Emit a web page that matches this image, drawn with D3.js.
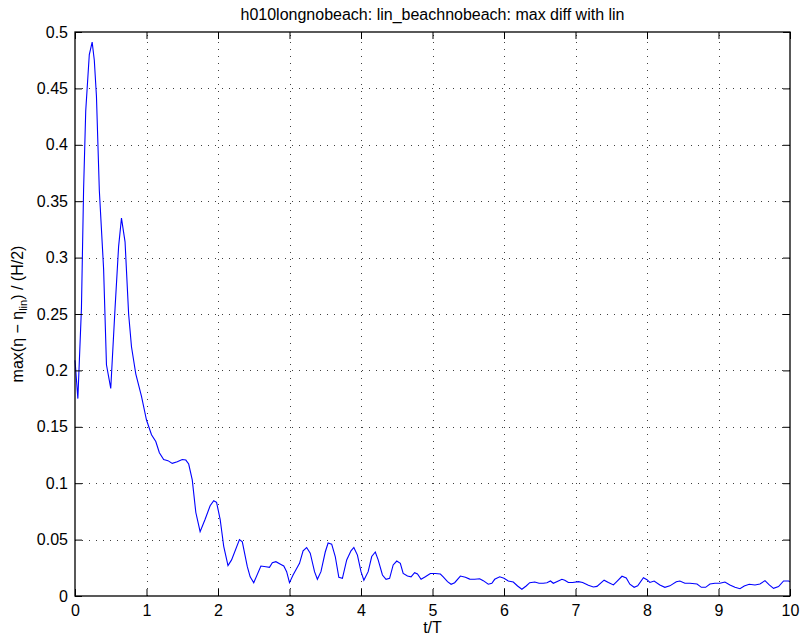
<!DOCTYPE html>
<html>
<head>
<meta charset="utf-8">
<script src="https://cdn.jsdelivr.net/npm/d3@7"></script>
<style>
  html, body { margin: 0; padding: 0; background: #fff; }
  svg text { font-family: "Liberation Sans", Arial, Helvetica, sans-serif; fill: #000; }
</style>
</head>
<body>
<svg id="chart" width="803" height="640"></svg>
<script>
// Time samples (t/T) and normalised maximum difference
const tValues = [
  0.00, 0.04, 0.09, 0.12, 0.15, 0.20, 0.24, 0.27, 0.30, 0.34,
  0.40, 0.44, 0.50, 0.56, 0.61, 0.65, 0.70, 0.75, 0.79, 0.85,
  0.93, 1.00, 1.07, 1.13, 1.18, 1.24, 1.30, 1.36, 1.43, 1.50,
  1.55, 1.59, 1.64, 1.69, 1.75, 1.82, 1.89, 1.94, 1.98, 2.03,
  2.08, 2.14, 2.19, 2.30, 2.34, 2.41, 2.45, 2.50, 2.60, 2.67,
  2.72, 2.76, 2.81, 2.88, 2.92, 2.96, 3.00, 3.05, 3.14, 3.19,
  3.24, 3.29, 3.35, 3.39, 3.44, 3.50, 3.54, 3.59, 3.64, 3.69,
  3.74, 3.80, 3.86, 3.90, 3.95, 4.00, 4.04, 4.10, 4.15, 4.20,
  4.24, 4.30, 4.35, 4.40, 4.45, 4.50, 4.55, 4.59, 4.65, 4.70,
  4.75, 4.79, 4.84, 4.90, 4.97, 5.04, 5.11, 5.15, 5.21, 5.26,
  5.31, 5.39, 5.46, 5.52, 5.59, 5.66, 5.71, 5.78, 5.83, 5.87,
  5.94, 6.00, 6.06, 6.13, 6.19, 6.25, 6.31, 6.36, 6.43, 6.49,
  6.55, 6.60, 6.65, 6.69, 6.76, 6.81, 6.85, 6.90, 6.96, 7.04,
  7.10, 7.18, 7.25, 7.30, 7.40, 7.46, 7.53, 7.58, 7.65, 7.71,
  7.76, 7.82, 7.87, 7.95, 8.00, 8.04, 8.10, 8.18, 8.25, 8.32,
  8.41, 8.46, 8.53, 8.60, 8.70, 8.76, 8.82, 8.88, 8.95, 9.02,
  9.09, 9.16, 9.23, 9.30, 9.36, 9.43, 9.51, 9.58, 9.65, 9.71,
  9.77, 9.84, 9.91, 9.98, 10.00
];
const maxDiff = [
  0.209, 0.175, 0.255, 0.360, 0.430, 0.480, 0.491, 0.475, 0.443, 0.360,
  0.290, 0.205, 0.184, 0.255, 0.310, 0.335, 0.314, 0.250, 0.221, 0.197,
  0.177, 0.156, 0.143, 0.137, 0.127, 0.121, 0.120, 0.1176, 0.119, 0.121,
  0.1205, 0.117, 0.103, 0.074, 0.057, 0.068, 0.080, 0.0845, 0.083, 0.068,
  0.044, 0.027, 0.032, 0.050, 0.048, 0.026, 0.017, 0.0118, 0.0266, 0.026,
  0.0254, 0.0295, 0.0304, 0.028, 0.0266, 0.0216, 0.0118, 0.0186, 0.029, 0.040,
  0.043, 0.038, 0.0216, 0.0148, 0.0216, 0.039, 0.047, 0.046, 0.035, 0.0166,
  0.0157, 0.032, 0.040, 0.043, 0.0363, 0.0216, 0.014, 0.0216, 0.035, 0.039,
  0.032, 0.0186, 0.0148, 0.0157, 0.0275, 0.031, 0.029, 0.020, 0.0177, 0.017,
  0.0207, 0.0195, 0.0148, 0.017, 0.020, 0.020, 0.0195, 0.017, 0.0127, 0.0104,
  0.0118, 0.0177, 0.0166, 0.015, 0.0148, 0.0153, 0.0136, 0.0104, 0.0113, 0.0148,
  0.017, 0.0157, 0.0133, 0.0124, 0.0089, 0.006, 0.0089, 0.0118, 0.0124, 0.0113,
  0.0113, 0.0118, 0.0133, 0.0113, 0.0133, 0.0148, 0.014, 0.012, 0.012, 0.0127,
  0.012, 0.0095, 0.008, 0.0085, 0.014, 0.012, 0.0098, 0.013, 0.0175, 0.016,
  0.0105, 0.0077, 0.009, 0.0162, 0.0145, 0.012, 0.0133, 0.0098, 0.0077, 0.009,
  0.0127, 0.0133, 0.0113, 0.0113, 0.0106, 0.0077, 0.0077, 0.0106, 0.0113, 0.0113,
  0.0124, 0.0098, 0.0077, 0.0065, 0.0089, 0.0104, 0.0098, 0.0106, 0.0136, 0.0098,
  0.0068, 0.0083, 0.0133, 0.0133, 0.0127
];
const xTicks = [0, 1, 2, 3, 4, 5, 6, 7, 8, 9, 10];
const yTicks = [0, 0.05, 0.1, 0.15, 0.2, 0.25, 0.3, 0.35, 0.4, 0.45, 0.5];
const titleText = "h010longnobeach: lin_beachnobeach: max diff with lin";
const xLabel = "t/T";

const svg = d3.select("#chart");
const plot = { left: 75, right: 790, top: 32, bottom: 596 };

const x = d3.scaleLinear().domain([0, 10]).range([plot.left, plot.right]);
const y = d3.scaleLinear().domain([0, 0.5]).range([plot.bottom, plot.top]);

// Dotted grid
const grid = svg.append("g")
  .attr("stroke", "#000")
  .attr("stroke-width", 1)
  .attr("stroke-dasharray", "1,6")
  .attr("opacity", 0.75);
grid.selectAll("line.gx").data(xTicks.slice(1, -1)).enter().append("line")
  .attr("x1", d => Math.round(x(d)) + 0.5).attr("x2", d => Math.round(x(d)) + 0.5)
  .attr("y1", plot.bottom).attr("y2", plot.top);
grid.selectAll("line.gy").data(yTicks.slice(1, -1)).enter().append("line")
  .attr("y1", d => Math.round(y(d)) + 0.5).attr("y2", d => Math.round(y(d)) + 0.5)
  .attr("x1", plot.left).attr("x2", plot.right);

// Data line
const line = d3.line()
  .x((d, i) => x(tValues[i]))
  .y(d => y(d));
svg.append("path")
  .datum(maxDiff)
  .attr("fill", "none")
  .attr("stroke", "#0000ff")
  .attr("stroke-width", 1.1)
  .attr("d", line);

// Axes: inward ticks on all four sides
const tickLen = 7;
const fontSize = 16;
const bottomAxis = d3.axisBottom(x).tickValues(xTicks).tickSizeInner(-tickLen).tickSizeOuter(0).tickPadding(9).tickFormat(d3.format("d"));
const topAxis = d3.axisTop(x).tickValues(xTicks).tickSizeInner(-tickLen).tickSizeOuter(0).tickFormat("");
const leftAxis = d3.axisLeft(y).tickValues(yTicks).tickSizeInner(-tickLen).tickSizeOuter(0).tickPadding(7).tickFormat(d => String(+d.toFixed(2)));
const rightAxis = d3.axisRight(y).tickValues(yTicks).tickSizeInner(-tickLen).tickSizeOuter(0).tickFormat("");

function styleAxis(g) {
  g.select(".domain").remove();
  g.selectAll(".tick line").attr("stroke", "#000").attr("stroke-width", 1);
  g.selectAll(".tick text").attr("font-size", fontSize).attr("font-family", "Liberation Sans, Arial, sans-serif");
}
svg.append("g").attr("transform", `translate(0,${plot.bottom})`).call(bottomAxis).call(styleAxis);
svg.append("g").attr("transform", `translate(0,${plot.top})`).call(topAxis).call(styleAxis);
svg.append("g").attr("transform", `translate(${plot.left},0)`).call(leftAxis).call(styleAxis);
svg.append("g").attr("transform", `translate(${plot.right},0)`).call(rightAxis).call(styleAxis);

// Axes box
svg.append("rect")
  .attr("x", plot.left).attr("y", plot.top)
  .attr("width", plot.right - plot.left).attr("height", plot.bottom - plot.top)
  .attr("fill", "none").attr("stroke", "#000").attr("stroke-width", 1.3);

// Title
svg.append("text")
  .attr("x", (plot.left + plot.right) / 2).attr("y", 20)
  .attr("text-anchor", "middle").attr("font-size", 16)
  .text(titleText);

// X label
svg.append("text")
  .attr("x", (plot.left + plot.right) / 2).attr("y", 633)
  .attr("text-anchor", "middle").attr("font-size", 16)
  .text(xLabel);

// Y label with subscript
const yl = svg.append("text")
  .attr("transform", `translate(23,${(plot.top + plot.bottom) / 2}) rotate(-90)`)
  .attr("text-anchor", "middle").attr("font-size", 16);
yl.append("tspan").text("max(η − η");
yl.append("tspan").attr("font-size", 11).attr("dy", 4).text("lin");
yl.append("tspan").attr("dy", -4).text(") / (H/2)");
</script>
</body>
</html>
